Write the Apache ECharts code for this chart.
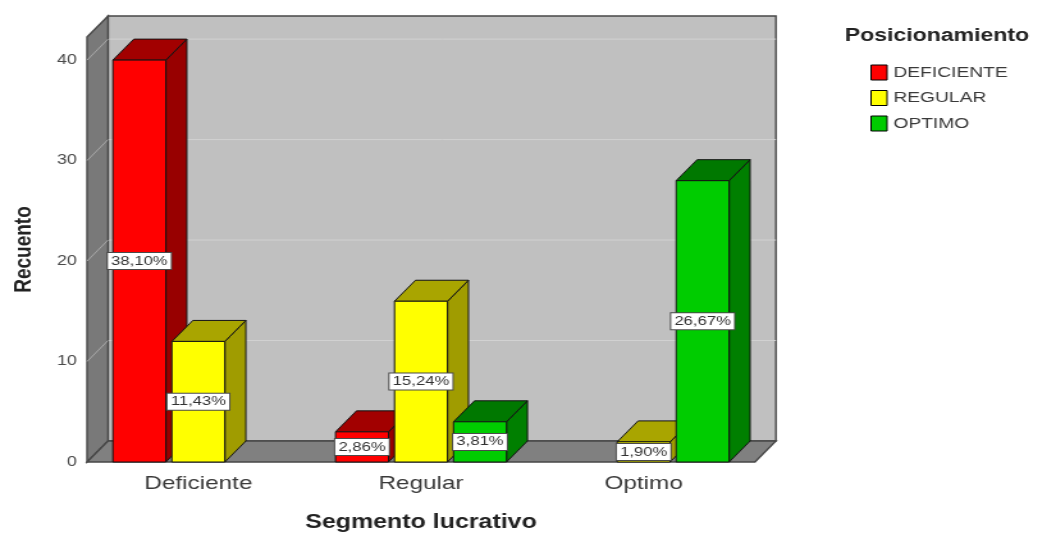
<!DOCTYPE html>
<html>
<head>
<meta charset="utf-8">
<title>Segmento lucrativo - Posicionamiento</title>
<script src="https://cdn.jsdelivr.net/npm/echarts@6/dist/echarts.min.js"></script>
<style>
  html, body { margin: 0; padding: 0; background: #ffffff; overflow: hidden; }
  /* the chart is laid out narrow and widened horizontally */
  #chart { width: 810px; height: 537px; transform: scaleX(1.28); transform-origin: 0 0; }
</style>
</head>
<body>
<div id="chart"></div>
<script>
// categories on the x axis
const categories = ['Deficiente', 'Regular', 'Optimo'];
// legend / series names
const seriesNames = ['DEFICIENTE', 'REGULAR', 'OPTIMO'];
// counts for each positioning level, one value per category
const deficiente = [40, 3, 0];
const regular = [12, 16, 2];
const optimo = [0, 4, 28];
// value axis ticks
const yTicks = [0, 10, 20, 30, 40];

const seriesValues = [deficiente, regular, optimo];
const total = seriesValues.flat().reduce((a, b) => a + b, 0);

const FONT = "'Liberation Sans', Arial, Helvetica, sans-serif";
const DX = 16.4;   // depth offset, horizontal
const DY = 21;     // depth offset, vertical

const faces = [
  { front: '#ff0000', top: '#a20000', side: '#980000' },
  { front: '#ffff00', top: '#a9a500', side: '#a09c00' },
  { front: '#00cc00', top: '#007800', side: '#007f00' }
];

function pctLabel(v) {
  return (v / total * 100).toFixed(2).replace('.', ',') + '%';
}

// back wall, side wall, floor and gridlines of the 3D box
function renderWalls(params, api) {
  const cs = params.coordSys;
  const L = cs.x, R = cs.x + cs.width, T = cs.y, B = cs.y + cs.height;
  const edge = { stroke: '#474747', lineWidth: 1.4 };
  const children = [];
  children.push({ type: 'rect', shape: { x: L + DX, y: T - DY, width: R - L, height: B - T },
    style: Object.assign({ fill: '#c0c0c0' }, edge) });
  yTicks.forEach(function (v) {
    if (v === 0) return;
    const y = api.coord([0, v])[1];
    children.push({ type: 'line', shape: { x1: L + DX, y1: y - DY, x2: R + DX, y2: y - DY },
      style: { stroke: '#d2d2d2', lineWidth: 1 } });
  });
  children.push({ type: 'polygon', shape: { points: [[L, T], [L + DX, T - DY], [L + DX, B - DY], [L, B]] },
    style: Object.assign({ fill: '#797979' }, edge) });
  yTicks.forEach(function (v) {
    if (v === 0) return;
    const y = api.coord([0, v])[1];
    children.push({ type: 'line', shape: { x1: L, y1: y, x2: L + DX, y2: y - DY },
      style: { stroke: '#a9a9a9', lineWidth: 1 } });
  });
  children.push({ type: 'polygon', shape: { points: [[L, B], [L + DX, B - DY], [R + DX, B - DY], [R, B]] },
    style: Object.assign({ fill: '#808080' }, edge) });
  return { type: 'group', children: children };
}

// a 3D bar with its percentage label
function barRenderer(si) {
  const f = faces[si];
  return function (params, api) {
    const c = api.value(0);
    const v = api.value(1);
    if (!v) return null;
    const top = api.coord([c, v]);
    const base = api.coord([c, 0]);
    const band = api.size([1, 0])[0];
    const w = band * 0.238;
    const step = band * 0.265;
    const x0 = top[0] + (si - 1) * step - w / 2;
    const x1 = x0 + w;
    const y1 = top[1];
    const y0 = base[1];
    const line = { stroke: '#141414', lineWidth: 1, lineJoin: 'round' };
    return {
      type: 'group',
      children: [
        { type: 'polygon', shape: { points: [[x1, y1], [x1 + DX, y1 - DY], [x1 + DX, y0 - DY], [x1, y0]] },
          style: Object.assign({ fill: f.side }, line) },
        { type: 'polygon', shape: { points: [[x0, y1], [x0 + DX, y1 - DY], [x1 + DX, y1 - DY], [x1, y1]] },
          style: Object.assign({ fill: f.top }, line) },
        { type: 'rect', shape: { x: x0, y: y1, width: w, height: y0 - y1 },
          style: Object.assign({ fill: f.front }, line) },
        { type: 'text', x: (x0 + x1) / 2, y: (y0 + y1) / 2, z2: 10,
          style: {
            text: pctLabel(v), fill: '#333333', fontSize: 13, fontFamily: FONT,
            align: 'center', verticalAlign: 'middle',
            backgroundColor: '#ffffff', borderColor: '#4a4a4a', borderWidth: 1,
            padding: [1, 2.5, 0, 2.5], lineHeight: 15
          } }
      ]
    };
  };
}

const chart = echarts.init(document.getElementById('chart'), null, { renderer: 'canvas' });

const series = [{
  type: 'custom',
  name: 'walls',
  z: 1,
  silent: true,
  renderItem: renderWalls,
  data: [[0, 0]],
  encode: { x: 0, y: 1 }
}];
seriesValues.forEach(function (vals, si) {
  series.push({
    type: 'custom',
    name: seriesNames[si],
    z: 2,
    itemStyle: { color: faces[si].front },
    renderItem: barRenderer(si),
    data: vals.map(function (v, i) { return [i, v]; }),
    encode: { x: 0, y: 1 }
  });
});

chart.setOption({
  animation: false,
  backgroundColor: '#ffffff',
  title: {
    text: 'Posicionamiento',
    left: 660, top: 27, padding: 0,
    textStyle: { fontSize: 18, fontWeight: 'bold', color: '#222222', fontFamily: FONT }
  },
  legend: {
    data: seriesNames,
    orient: 'vertical',
    left: 680, top: 64.5, padding: 0,
    itemWidth: 12.5, itemHeight: 15, itemGap: 9.5,
    icon: 'rect',
    itemStyle: { borderColor: '#000000', borderWidth: 1 },
    textStyle: { fontSize: 15, color: '#3a3a3a', fontFamily: FONT }
  },
  grid: { left: 68, right: 220.2, top: 37, bottom: 75, containLabel: false, outerBoundsMode: 'none' },
  xAxis: {
    type: 'category',
    data: categories,
    axisLine: { show: false },
    axisTick: { show: false },
    axisLabel: { fontSize: 19, color: '#3a3a3a', margin: 12, fontFamily: FONT },
    name: 'Segmento lucrativo',
    nameLocation: 'middle',
    nameGap: 51,
    nameTextStyle: { fontSize: 19.5, fontWeight: 'bold', color: '#222222', fontFamily: FONT }
  },
  yAxis: {
    type: 'value',
    min: 0, max: 42.3, interval: 10,
    axisLine: { show: false },
    axisTick: { show: false },
    splitLine: { show: false },
    axisLabel: {
      fontSize: 14, color: '#4a4a4a', margin: 8, fontFamily: FONT, showMaxLabel: false,
      padding: [6, 0, 0, 0],
      formatter: function (v) { return yTicks.indexOf(v) >= 0 ? String(v) : ''; }
    },
    name: 'Recuento',
    nameLocation: 'middle',
    nameGap: 40,
    nameTextStyle: { fontSize: 19, fontWeight: 'bold', color: '#222222', fontFamily: FONT }
  },
  series: series
});
</script>
</body>
</html>
